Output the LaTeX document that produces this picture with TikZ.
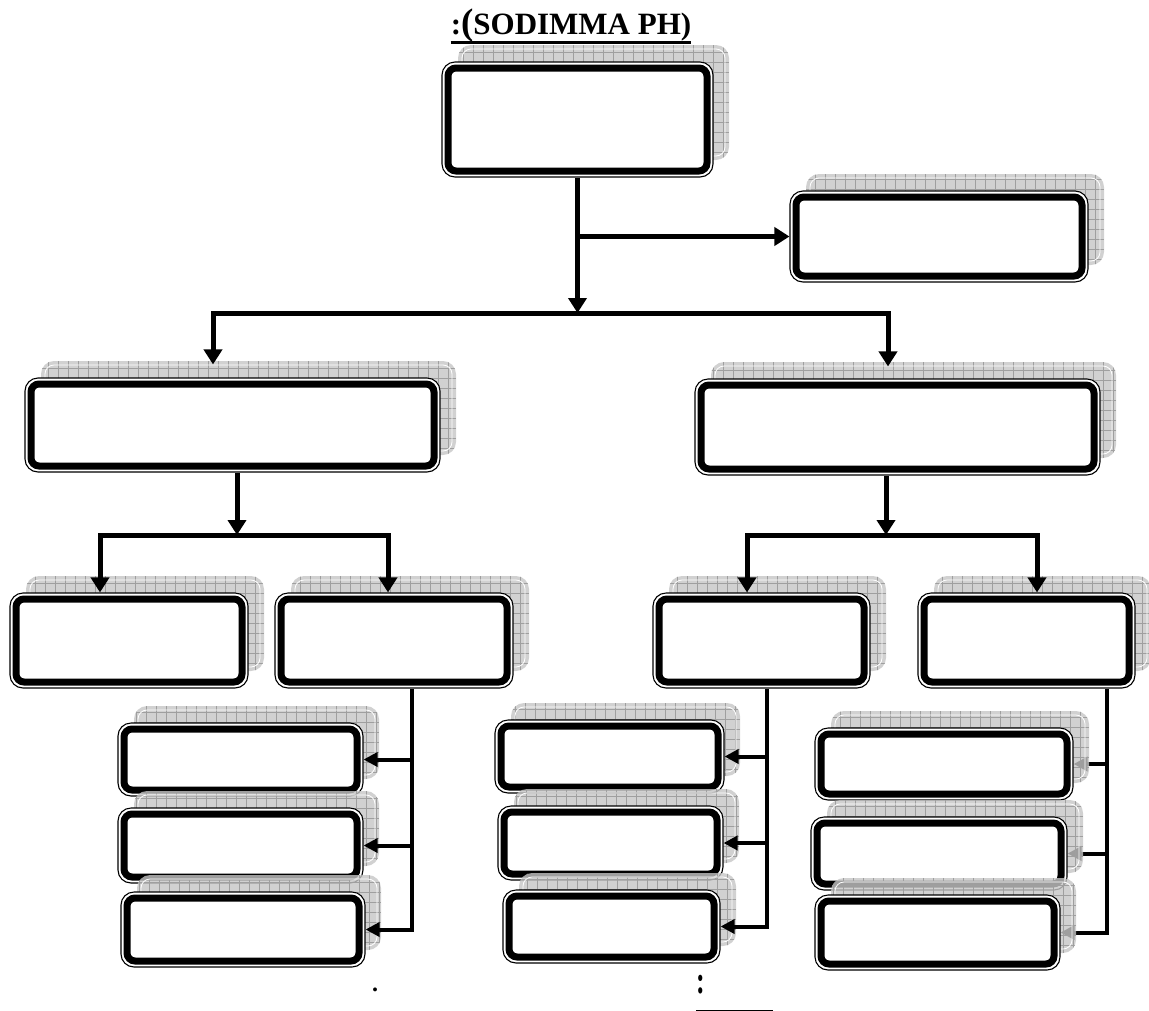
\documentclass[tikz,border=0pt]{standalone}
\usepackage{fontspec}
\usepackage{graphicx}
\setmainfont{Liberation Serif}
\newfontfamily\titlefont{Liberation Serif}
\usetikzlibrary{arrows.meta,calc}
\pgfdeclarelayer{background}
\pgfsetlayers{background,main}
\tikzset{
  obox/.style={rectangle, rounded corners=13pt, draw=black, line width=1.1pt, fill=white, inner sep=0pt,
    path picture={\draw[line width=7pt, rounded corners=8pt]
      ([shift={(6pt,6pt)}]path picture bounding box.south west) rectangle
      ([shift={(-6pt,-6pt)}]path picture bounding box.north east);}},
  shadowfill/.style={fill=gray!45, fill opacity=0.8},
  shadowgrid/.style={draw=gray!75, line width=0.6pt},
  conn/.style={line width=5pt, -{Triangle[length=15pt,width=18pt]}},
  conntwo/.style={line width=4pt, -{Triangle[length=14pt,width=14pt]}},
}
\newcommand\oshadow[4]{%
  \begin{scope}[shift={(#1+16,#2-17)}]
    \fill[shadowfill, rounded corners=13pt] ({-(#3)/2},{-(#4)/2}) rectangle ({(#3)/2},{(#4)/2});
    \begin{scope}
      \clip[rounded corners=13pt] ({-(#3)/2},{-(#4)/2}) rectangle ({(#3)/2},{(#4)/2});
      \draw[shadowgrid, step=10pt] ({-(#3)/2},{-(#4)/2}) grid ({(#3)/2},{(#4)/2});
    \end{scope}
    \draw[white, line width=0.8pt, rounded corners=9pt] ({-(#3)/2+4},{-(#4)/2+4}) rectangle ({(#3)/2-4},{(#4)/2-4});
  \end{scope}}
\newcommand\obx[5]{%
  \pgfmathsetmacro\obW{#4-#2}\pgfmathsetmacro\obH{#5-#3}%
  \pgfmathsetmacro\obX{(#2+#4)/2}\pgfmathsetmacro\obY{(#3+#5)/2}%
  \oshadow{\obX}{\obY}{\obW}{\obH}%
  \node[obox, minimum width=\obW pt, minimum height=\obH pt] (#1) at (\obX,\obY) {};}
\begin{document}
\begin{tikzpicture}[x=1pt,y=-1pt]
\useasboundingbox (0,0) rectangle (1149,1010);
% title
\node[font=\titlefont\bfseries\fontsize{31}{33}\selectfont, inner sep=0pt, anchor=base] (title) at (571,34)
  {:{\fontsize{37}{37}\selectfont(}SODIMMA PH)};
\draw[line width=3pt] ([yshift=-8pt]title.base west) -- ([yshift=-8pt]title.base east);
% boxes
\obx{top}{442}{62}{713}{177}
\obx{rsm}{790}{191}{1088}{282}
\obx{midL}{25}{378}{440}{472}
\obx{midR}{695}{379}{1100}{475}
\obx{A}{10}{593}{248}{688}
\obx{B}{275}{593}{513}{688}
\obx{C}{653}{593}{870}{688}
\obx{D}{918}{593}{1135}{688}
\obx{L1}{118}{723}{363}{796}
\obx{L2}{118}{808}{363}{883}
\obx{L3}{121}{892}{365}{967}
\obx{M1}{495}{720}{724}{793}
\obx{M2}{498}{806}{723}{880}
\obx{M3}{503}{890}{720}{963}
\obx{R1}{815}{728}{1073}{800}
\obx{R2}{811}{817}{1067}{890}
\obx{R3}{815}{895}{1060}{970}
% connectors level 1
\coordinate (j1) at (577.5,313);
\draw[conn] (top.south) -- (j1);
\draw[conn] (top.south |- rsm.west) -- (rsm.west);
\draw[conn] (j1) -| ([shift={(-19.5pt,13pt)}]midL.north);
\draw[conn] (j1) -| ([shift={(-9.5pt,12pt)}]midR.north);
% level 2
\coordinate (j2) at (237,535);
\draw[conn] (midL.south -| j2) -- (j2);
\draw[conn] (j2) -| ([xshift=-29pt]A.north);
\draw[conn] (j2) -| ([xshift=-6pt]B.north);
\coordinate (j3) at (886,535);
\draw[conn] (midR.south -| j3) -- (j3);
\draw[conn] (j3) -| ([xshift=-14.5pt]C.north);
\draw[conn] (j3) -| ([xshift=10.5pt]D.north);
% level 3 columns
\coordinate (vL) at ([xshift=18pt]B.south);
\draw[conntwo] (vL) |- (L3.east);
\draw[conntwo] (vL |- L1.east) -- (L1.east);
\draw[conntwo] (vL |- L2.east) -- (L2.east);
\coordinate (vM) at ([xshift=5.5pt]C.south);
\draw[conntwo] (vM) |- (M3.east);
\draw[conntwo] (vM |- M1.east) -- (M1.east);
\draw[conntwo] (vM |- M2.east) -- (M2.east);
\coordinate (vR) at ([xshift=80.5pt]D.south);
\begin{pgfonlayer}{background}
\draw[conntwo] (vR) |- (R3.east);
\draw[conntwo] (vR |- R1.east) -- (R1.east);
\draw[conntwo] (vR |- R2.east) -- (R2.east);
\end{pgfonlayer}
% bottom marks
\node[font=\bfseries\fontsize{24}{24}\selectfont, inner sep=0pt] (dotL) at (375,990) {.};
\node[font=\bfseries\fontsize{26}{26}\selectfont, inner sep=0pt] (colon) at (701,985) {\scalebox{1}[1.5]{:}};
\draw[line width=2pt] ([shift={(-5pt,-16pt)}]colon.south) -- ++(77pt,0);
\end{tikzpicture}
\end{document}
